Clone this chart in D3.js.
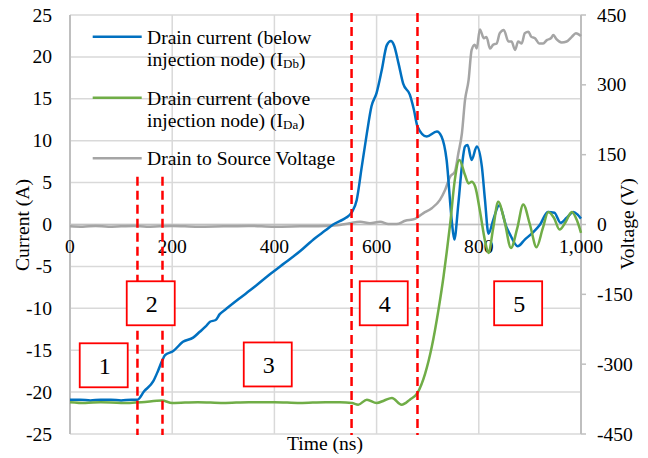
<!DOCTYPE html>
<html><head><meta charset="utf-8">
<script src="https://cdn.jsdelivr.net/npm/d3@7"></script>
<style>
html,body{margin:0;padding:0;background:#fff;}
svg text{font-family:'Liberation Serif','Times New Roman','DejaVu Serif',serif;}
</style></head>
<body><svg id="c" width="648" height="458"></svg>
<script>
// ---- data ----
const xTicks = [0,200,400,600,800,1000];
const yTicksLeft = [-25,-20,-15,-10,-5,0,5,10,15,20,25];
const yTicksRight = [-450,-300,-150,0,150,300,450];

const idbTime = [0,20,40,60,80,100,120,132,145,163,172,180,186,202,221,241,254,265,274,285,293,303,330,360,390,420,450,480,500,515,528,540,552,561,571,581,590,600,610,620,628,634,643,652,665,673,680,698,718,727,737,747,752,760,767,773,778,786,796,806,812,819,828,840,854,862,876,890,905,920,935,948,960,972,985,993,1000];
const idbValues = [-20.9,-20.9,-21.0,-20.9,-20.9,-21.0,-20.9,-20.9,-19.9,-18.7,-17.5,-16.3,-15.6,-15.1,-14.0,-13.5,-12.8,-12.2,-11.6,-11.4,-10.7,-10.2,-8.9,-7.5,-6.0,-4.6,-3.2,-1.6,-0.7,0.0,0.4,0.8,1.5,2.9,6.9,10.9,14.1,15.7,18.4,21.4,21.9,21.4,19.2,16.8,15.5,13.7,11.7,10.5,11.1,10.5,7.7,0.5,-1.8,2.5,7.0,9.3,9.5,7.7,9.3,6.9,3.0,-1.1,0.5,2.3,-0.3,-1.3,-2.6,-1.8,-1.0,0.0,1.5,1.4,0.2,0.8,1.5,1.2,0.7];

const idaTime = [0,30,60,100,140,180,200,250,300,350,400,450,500,528,552,564,581,600,615,630,649,665,680,695,708,721,731,737,744,753,762,773,780,786,793,802,812,819,828,838,850,863,875,887,900,913,925,936,947,958,970,982,992,1000];
const idaValues = [-21.2,-21.3,-21.2,-21.3,-21.2,-21.0,-21.3,-21.2,-21.3,-21.2,-21.2,-21.3,-21.2,-21.2,-21.3,-21.5,-20.9,-21.3,-21.0,-20.7,-21.5,-20.9,-20.1,-17.8,-14.6,-10.2,-6.2,-3.4,0.1,5.3,7.7,5.9,4.9,5.1,4.5,1.7,-1.9,-3.4,-0.5,2.7,0.5,-2.8,-0.5,2.4,0.0,-2.7,-0.5,1.5,0.8,-0.6,0.3,1.5,0.5,-1.0];

const vdsTime = [0,25,50,75,100,125,150,175,200,250,300,350,400,450,500,528,545,568,587,607,623,639,656,675,691,708,724,734,744,753,760,767,773,780,786,792,796,802,810,815,822,828,835,841,849,858,864,871,877,884,890,897,903,910,918,926,933,941,946,952,962,972,982,990,1000];
const vdsValues = [-4,-5,-3,-5,-4,-3,-5,-4,-3,-5,-4,-3,-5,-4,-3,-1,2,6,2.6,6,1,1,8,12,24,35,53,74,103,113,153,196,267,310,375,386,378,419,400,403,378,386,389,411,418,393,393,375,393,389,411,414,403,400,389,389,396,400,407,398,391,393,403,411,405];

const phaseLines = [132, 181, 551, 680];
const phaseLabels = ["1","2","3","4","5"];
const phaseLabelTime = [66, 158, 387, 614, 877];
const phaseLabelCurrent = [-16.8, -9.4, -16.7, -9.4, -9.4];

const legendLabels = [
  ["Drain current (below", "injection node) (I", "Db", ")"],
  ["Drain current (above", "injection node) (I", "Da", ")"],
  ["Drain to Source Voltage"]
];
const colors = ["#0070C0", "#70AD47", "#A5A5A5"];

// ---- chart ----
const FF = "'Liberation Serif','Times New Roman','DejaVu Serif',serif";
const svg = d3.select("#c");
const L = 70, R = 581, T = 15, B = 434;
const x = d3.scaleLinear().domain([0,1000]).range([L,R]);
const y = d3.scaleLinear().domain([-25,25]).range([B,T]);
const yR = d3.scaleLinear().domain([-450,450]).range([B,T]);
const FS = 19.6;

// grid
svg.append("g").selectAll("line").data(yTicksLeft).join("line")
  .attr("x1",L).attr("x2",R).attr("y1",d=>y(d)).attr("y2",d=>y(d))
  .attr("stroke","#D9D9D9").attr("stroke-width",1.5);
svg.append("g").selectAll("line").data(xTicks.filter(d=>d>0)).join("line")
  .attr("x1",d=>x(d)).attr("x2",d=>x(d)).attr("y1",T).attr("y2",B)
  .attr("stroke","#D9D9D9").attr("stroke-width",1.5);

// axes lines
svg.append("line").attr("x1",L).attr("x2",L).attr("y1",T).attr("y2",B).attr("stroke","#BFBFBF").attr("stroke-width",2);
svg.append("line").attr("x1",R).attr("x2",R).attr("y1",T).attr("y2",B).attr("stroke","#BFBFBF").attr("stroke-width",2);
svg.append("line").attr("x1",L).attr("x2",R).attr("y1",y(0)).attr("y2",y(0)).attr("stroke","#BFBFBF").attr("stroke-width",1.5);
svg.append("g").selectAll("line").data(yTicksRight).join("line")
  .attr("x1",R).attr("x2",R+5).attr("y1",d=>yR(d)).attr("y2",d=>yR(d))
  .attr("stroke","#BFBFBF").attr("stroke-width",1.5);

// tick labels
svg.append("g").selectAll("text").data(yTicksLeft).join("text")
  .attr("x",52).attr("y",d=>y(d)+6.5).attr("text-anchor","end").attr("font-family",FF)
  .attr("font-size",FS).attr("fill","#000").text(d=>d);
svg.append("g").selectAll("text").data(yTicksRight).join("text")
  .attr("x",597).attr("y",d=>yR(d)+6.5).attr("text-anchor","start").attr("font-family",FF)
  .attr("font-size",FS).attr("fill","#000").text(d=>d);
const fmt = d3.format(",");
svg.append("g").selectAll("text").data(xTicks).join("text")
  .attr("x",d=>x(d)).attr("y",253).attr("text-anchor","middle").attr("font-family",FF)
  .attr("font-size",FS).attr("fill","#000").text(d=>fmt(d));

// axis titles
svg.append("text").attr("transform","translate(29,225) rotate(-90)").attr("text-anchor","middle")
  .attr("font-family",FF).attr("font-size",FS).text("Current (A)");
svg.append("text").attr("transform","translate(634,224) rotate(-90)").attr("text-anchor","middle")
  .attr("font-family",FF).attr("font-size",FS).text("Voltage (V)");
svg.append("text").attr("x",325).attr("y",450).attr("text-anchor","middle")
  .attr("font-family",FF).attr("font-size",FS).text("Time (ns)");

// series
const lineL = d3.line().x(d=>x(d[0])).y(d=>y(d[1])).curve(d3.curveMonotoneX);
const lineR = d3.line().x(d=>x(d[0])).y(d=>yR(d[1])).curve(d3.curveMonotoneX);
svg.append("path").datum(d3.zip(vdsTime,vdsValues)).attr("d",lineR)
  .attr("fill","none").attr("stroke",colors[2]).attr("stroke-width",2.5).attr("stroke-linejoin","round");
svg.append("path").datum(d3.zip(idbTime,idbValues)).attr("d",lineL)
  .attr("fill","none").attr("stroke",colors[0]).attr("stroke-width",2.5).attr("stroke-linejoin","round");
svg.append("path").datum(d3.zip(idaTime,idaValues)).attr("d",lineL)
  .attr("fill","none").attr("stroke",colors[1]).attr("stroke-width",2.5).attr("stroke-linejoin","round");

// phase dashed lines
svg.append("g").selectAll("line").data(phaseLines).join("line")
  .attr("x1",d=>x(d)).attr("x2",d=>x(d))
  .attr("y1",(d,i)=> i<2 ? y(5.7) : y(25)-2).attr("y2",B+1)
  .attr("stroke","#FF0000").attr("stroke-width",2.5).attr("stroke-dasharray","9,5");

// phase boxes
const bw = 48, bh = 44;
const boxes = svg.append("g").selectAll("g").data(phaseLabels).join("g");
boxes.append("rect")
  .attr("x",(d,i)=>x(phaseLabelTime[i])-bw/2).attr("y",(d,i)=>y(phaseLabelCurrent[i])-bh/2)
  .attr("width",bw).attr("height",bh).attr("fill","#fff").attr("stroke","#FF0000").attr("stroke-width",1.8);
boxes.append("text")
  .attr("x",(d,i)=>x(phaseLabelTime[i])+1).attr("y",(d,i)=>y(phaseLabelCurrent[i])+8.5)
  .attr("text-anchor","middle").attr("font-family",FF).attr("font-size",24).text(d=>d);

// legend
const legY = [36.7, 97.7, 158.3];
const lg = svg.append("g");
legendLabels.forEach((lab,i)=>{
  lg.append("line").attr("x1",92.7).attr("x2",141.7).attr("y1",legY[i]).attr("y2",legY[i])
    .attr("stroke",colors[i]).attr("stroke-width",2.5);
  lg.append("text").attr("x",147).attr("y",legY[i]+6.8).attr("font-family",FF).attr("font-size",FS).text(lab[0]);
  if (lab.length>1){
    const t = lg.append("text").attr("x",147).attr("y",legY[i]+29).attr("font-family",FF).attr("font-size",FS);
    t.append("tspan").text(lab[1]);
    t.append("tspan").attr("font-size",13).attr("dy",2.5).text(lab[2]);
    t.append("tspan").attr("dy",-2.5).text(lab[3]);
  }
});
</script></body></html>
